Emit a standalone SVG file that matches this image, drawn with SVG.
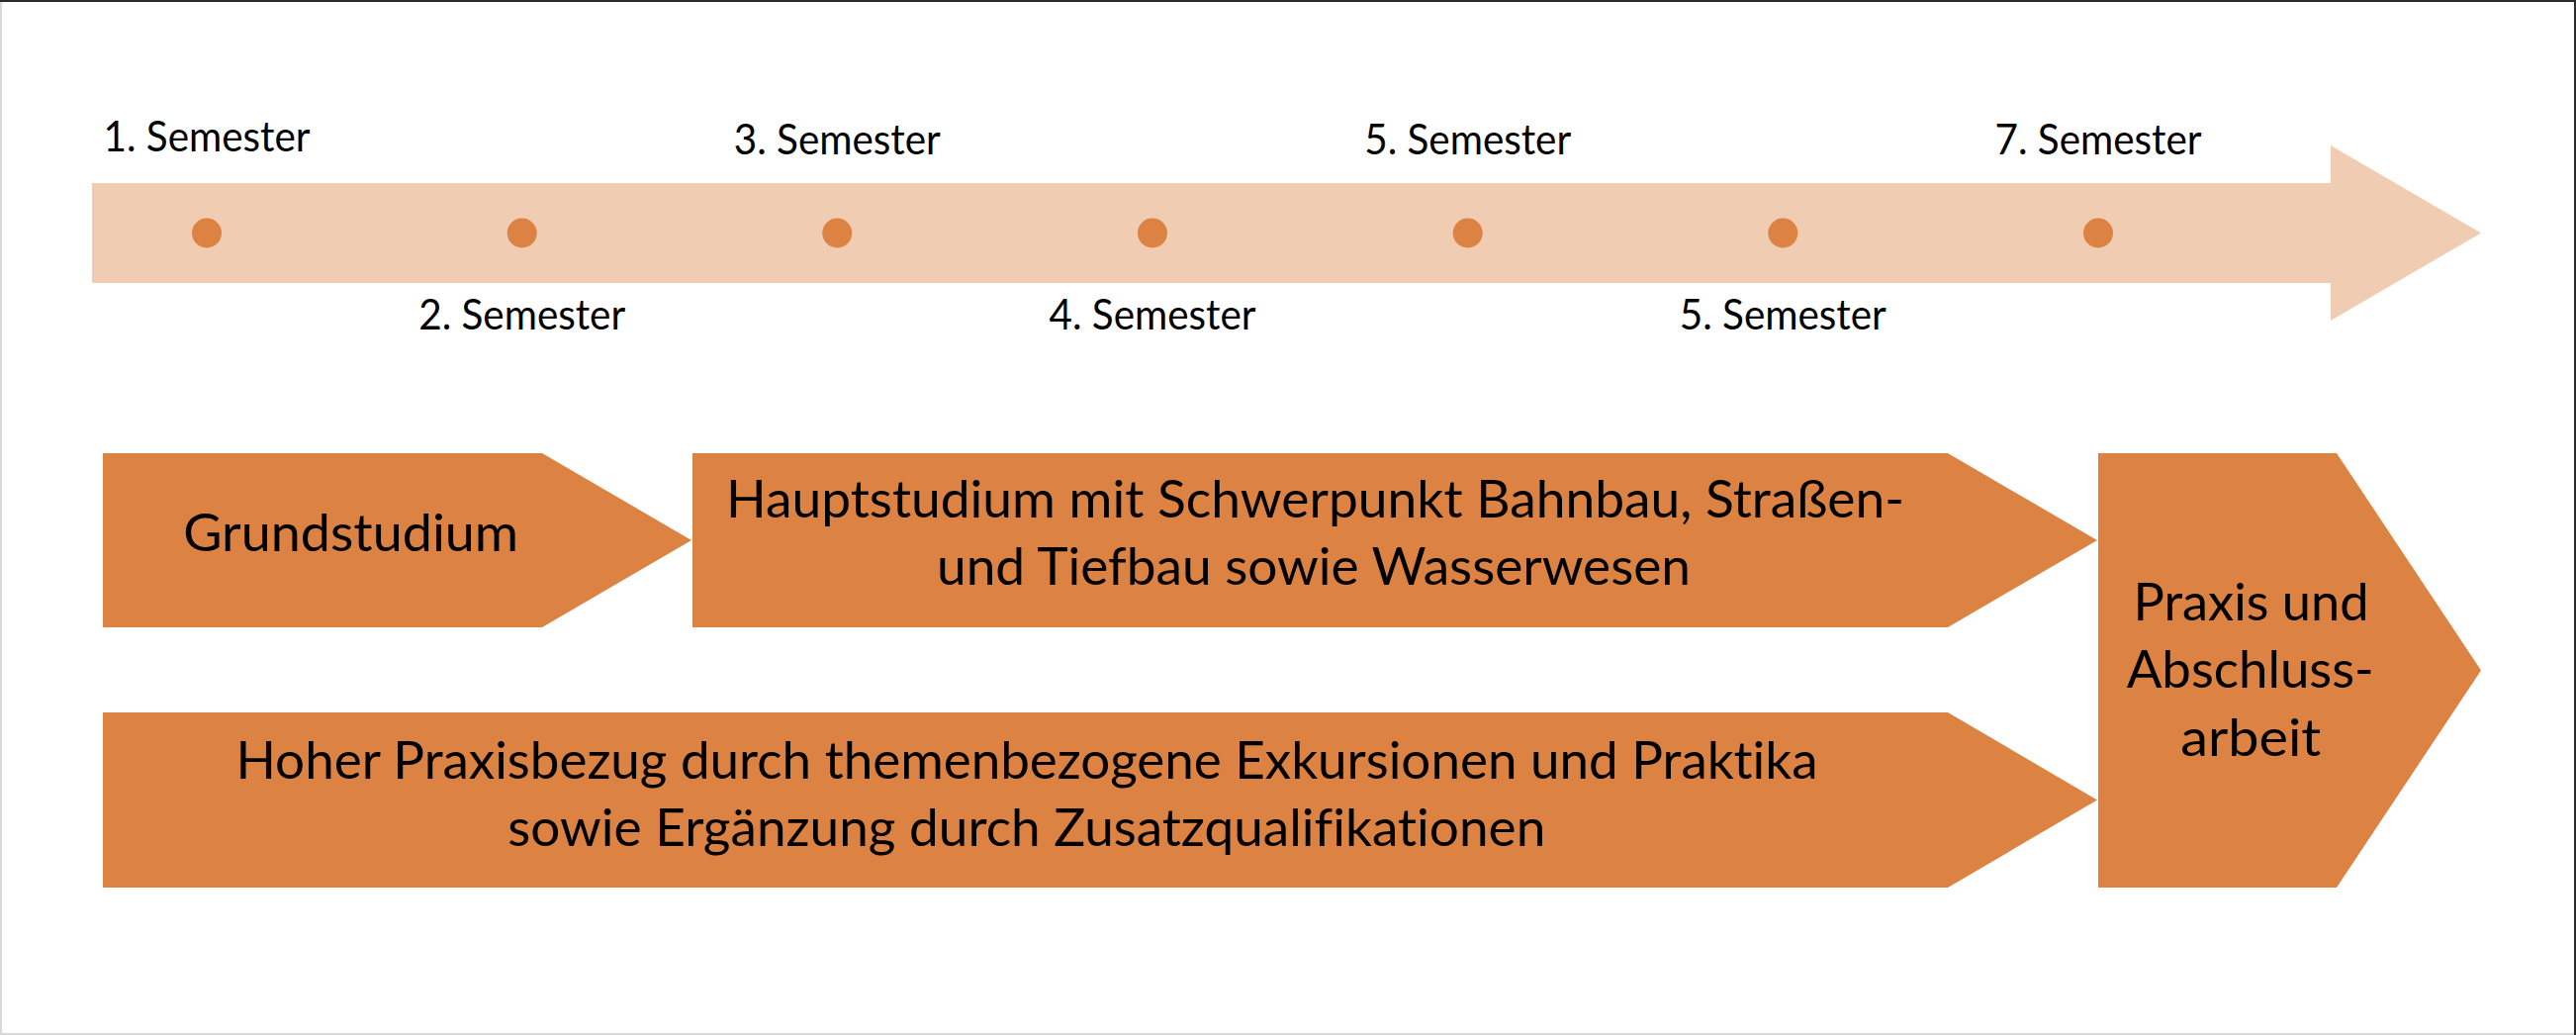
<svg xmlns="http://www.w3.org/2000/svg" width="2604" height="1046" viewBox="0 0 2604 1046">
  <style>
    .lbl { font-family: Lato, "Open Sans", "Liberation Sans", sans-serif; font-size: 42.5px; fill: #000; text-anchor: middle; font-variant-ligatures: none; }
    .big { font-family: Lato, "Open Sans", "Liberation Sans", sans-serif; font-size: 52px; fill: #000; text-anchor: middle; font-variant-ligatures: none; }
    .shape { fill: #DC8243; }
    .band { fill: #F0CDB2; }
    .dot { fill: #DC8243; }
  </style>
  <rect x="0" y="0" width="2604" height="1046" fill="#FFFFFF"/>
  <!-- frame -->
  <rect x="0" y="0" width="2" height="1046" fill="#D9D9D9"/>
  <rect x="0" y="1044" width="2604" height="2" fill="#D9D9D9"/>
  <rect x="0" y="0" width="2604" height="2" fill="#2B2B2B"/>
  <rect x="2602" y="0" width="2" height="1046" fill="#2B2B2B"/>

  <g id="timeline">
    <polygon class="band" points="93,185 2356,185 2356,147 2508,235.5 2356,324 2356,286 93,286"/>
    <circle class="dot" cx="209" cy="235.5" r="15"/>
    <circle class="dot" cx="527.7" cy="235.5" r="15"/>
    <circle class="dot" cx="846.3" cy="235.5" r="15"/>
    <circle class="dot" cx="1165" cy="235.5" r="15"/>
    <circle class="dot" cx="1483.7" cy="235.5" r="15"/>
    <circle class="dot" cx="1802.3" cy="235.5" r="15"/>
    <circle class="dot" cx="2121" cy="235.5" r="15"/>
  </g>

  <g id="semester-labels">
    <text class="lbl" x="209" y="152.5" textLength="209" lengthAdjust="spacingAndGlyphs">1. Semester</text>
    <text class="lbl" x="846.3" y="155.5" textLength="209" lengthAdjust="spacingAndGlyphs">3. Semester</text>
    <text class="lbl" x="1483.7" y="155.5" textLength="209" lengthAdjust="spacingAndGlyphs">5. Semester</text>
    <text class="lbl" x="2121" y="155.5" textLength="209" lengthAdjust="spacingAndGlyphs">7. Semester</text>
    <text class="lbl" x="527.7" y="332.5" textLength="209" lengthAdjust="spacingAndGlyphs">2. Semester</text>
    <text class="lbl" x="1165" y="332.5" textLength="209" lengthAdjust="spacingAndGlyphs">4. Semester</text>
    <text class="lbl" x="1802.3" y="332.5" textLength="209" lengthAdjust="spacingAndGlyphs">5. Semester</text>
  </g>

  <g id="grundstudium">
    <polygon class="shape" points="104,458 548,458 699,546 548,634 104,634"/>
    <text class="big" x="354.7" y="557" textLength="339" lengthAdjust="spacingAndGlyphs">Grundstudium</text>
  </g>

  <g id="hauptstudium">
    <polygon class="shape" points="700,458 1969,458 2120,546 1969,634 700,634"/>
    <text class="big" x="1329.5" y="522.7" textLength="1191" lengthAdjust="spacingAndGlyphs">Hauptstudium mit Schwerpunkt Bahnbau, Straßen-</text>
    <text class="big" x="1328" y="590.7" textLength="762" lengthAdjust="spacingAndGlyphs">und Tiefbau sowie Wasserwesen</text>
  </g>

  <g id="praxisbezug">
    <polygon class="shape" points="104,720 1969,720 2120,808.5 1969,897 104,897"/>
    <text class="big" x="1038" y="787.3" textLength="1599" lengthAdjust="spacingAndGlyphs">Hoher Praxisbezug durch themenbezogene Exkursionen und Praktika</text>
    <text class="big" x="1037.8" y="854.5" textLength="1049" lengthAdjust="spacingAndGlyphs">sowie Ergänzung durch Zusatzqualifikationen</text>
  </g>

  <g id="abschluss">
    <polygon class="shape" points="2121,458 2362,458 2508,677.5 2362,897 2121,897"/>
    <text class="big" x="2275.5" y="627.3" textLength="238" lengthAdjust="spacingAndGlyphs">Praxis und</text>
    <text class="big" x="2274.7" y="695" textLength="250" lengthAdjust="spacingAndGlyphs">Abschluss-</text>
    <text class="big" x="2275.3" y="764" textLength="142" lengthAdjust="spacingAndGlyphs">arbeit</text>
  </g>
</svg>
